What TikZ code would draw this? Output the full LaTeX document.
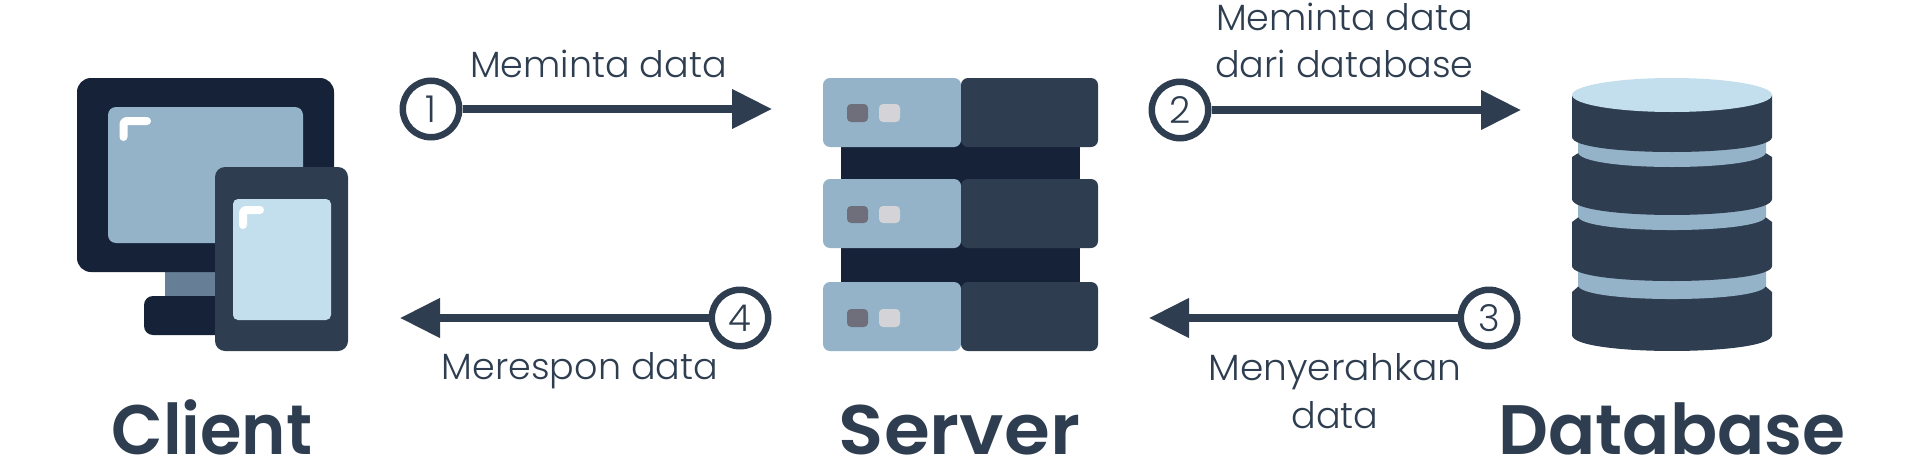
\documentclass[tikz,border=0pt]{standalone}
\usepackage{fontspec}
\setmainfont{Poppins}
\newfontfamily\labfont{Poppins Light}
\newfontfamily\boldfont{Poppins SemiBold}
\usetikzlibrary{arrows.meta}
\definecolor{ink}{HTML}{2E3E50}
\definecolor{navy}{HTML}{152238}
\definecolor{steel}{HTML}{94B3C9}
\definecolor{pale}{HTML}{C3DFEE}
\definecolor{stand}{HTML}{667F97}
\definecolor{btnd}{HTML}{6F6F7B}
\definecolor{btnl}{HTML}{D3D3D8}
\tikzset{
  numc/.style={circle,draw=ink,line width=6.5pt,minimum size=56.5pt,inner sep=0pt,text=ink,font=\labfont\fontsize{37}{37}\selectfont},
  flow/.style={draw=ink,line width=7.5pt,-{Triangle[length=40pt,width=38pt]}},
  lab/.style={anchor=base,inner sep=0pt,text=ink,font=\labfont\fontsize{36.5}{36.5}\selectfont},
  title/.style={anchor=base,inner sep=0pt,text=ink,font=\boldfont\fontsize{70}{70}\selectfont},
  shine/.style={draw=white,line width=8pt,line cap=round,line join=round,rounded corners=3pt},
  lpanel/.style={fill=steel,rounded corners=7pt},
  rpanel/.style={fill=ink,rounded corners=7pt},
  btn/.style={rounded corners=4pt},
}
\begin{document}
\begin{tikzpicture}[x=1pt,y=-1pt]
\useasboundingbox (0,0) rectangle (1920,458);
% Client icon
\fill[stand] (165,268) rectangle (220,300);
\fill[navy,rounded corners=9pt] (144,296) rectangle (230,335);
\fill[navy,rounded corners=14pt] (77,78) rectangle (334,272);
\fill[steel,rounded corners=8pt] (108,107) rectangle (303,243);
\draw[shine] (123.5,137) -- (123.5,121) -- (147,121);
\fill[ink,rounded corners=10pt] (215,167) rectangle (348,351);
\fill[pale,rounded corners=5pt] (233,199) rectangle (331,320);
\draw[shine] (243,225) -- (243,210) -- (260,210);
% Server icon
\fill[navy] (841,140) rectangle (1080,290);
\foreach \t/\b/\bt/\bb in {78/147/104/122,179/248/206/223,282/351/309/327}{
  \fill[lpanel] (823,\t) rectangle (961,\b);
  \fill[rpanel] (961,\t) rectangle (1098,\b);
  \fill[btnd,btn] (847,\bt) rectangle (868,\bb);
  \fill[btnl,btn] (879,\bt) rectangle (900,\bb);
}
% Database icon
\fill[ink] (1572,292) -- (1580,285) -- (1764,285) -- (1772,292) -- (1772,335) .. controls (1772,356.3) and (1572,356.3) .. (1572,335) -- cycle;
\fill[steel] (1578,260) -- (1578,285) .. controls (1578,303.7) and (1766,303.7) .. (1766,285) -- (1766,260) -- cycle;
\fill[ink] (1572,222) -- (1580,216) -- (1764,216) -- (1772,222) -- (1772,266) .. controls (1772,286) and (1572,286) .. (1572,266) -- cycle;
\fill[steel] (1578,190) -- (1578,216) .. controls (1578,234.7) and (1766,234.7) .. (1766,216) -- (1766,190) -- cycle;
\fill[ink] (1572,157) -- (1580,152) -- (1764,152) -- (1772,157) -- (1772,199) .. controls (1772,220.3) and (1572,220.3) .. (1572,199) -- cycle;
\fill[steel] (1578,130) -- (1578,152) .. controls (1578,172) and (1766,172) .. (1766,152) -- (1766,130) -- cycle;
\fill[ink] (1572,95) -- (1572,137) .. controls (1572,157) and (1772,157) .. (1772,137) -- (1772,95) -- cycle;
\fill[pale] (1672,95) ellipse [x radius=100pt,y radius=17pt];
% Connectors
\node[numc] (n1) at (431,109) {1};
\coordinate (t1) at (772,109);
\draw[flow] (n1) -- (t1);
\node[numc] (n2) at (1180,110) {2};
\coordinate (t2) at (1521,110);
\draw[flow] (n2) -- (t2);
\node[numc] (n3) at (1489,318) {3};
\coordinate (t3) at (1149,318);
\draw[flow] (n3) -- (t3);
\node[numc] (n4) at (740,318) {4};
\coordinate (t4) at (400,318);
\draw[flow] (n4) -- (t4);
% Labels
\node[lab] (l1) at (598.5,77) {Meminta data};
\node[lab] (l2a) at (1344.5,30) {Meminta data};
\node[lab] (l2b) at (1344.5,77) {dari database};
\node[lab,xscale=1.03] (l3a) at (1335,380) {Menyerahkan};
\node[lab] (l3b) at (1335,428) {data};
\node[lab] (l4) at (580,379) {Merespon data};
\node[title,xscale=.96] (c) at (212,454) {Client};
\node[title,xscale=1.06] (s) at (959.5,454) {Server};
\node[title,xscale=.995] (d) at (1672,454) {Database};
\end{tikzpicture}
\end{document}
